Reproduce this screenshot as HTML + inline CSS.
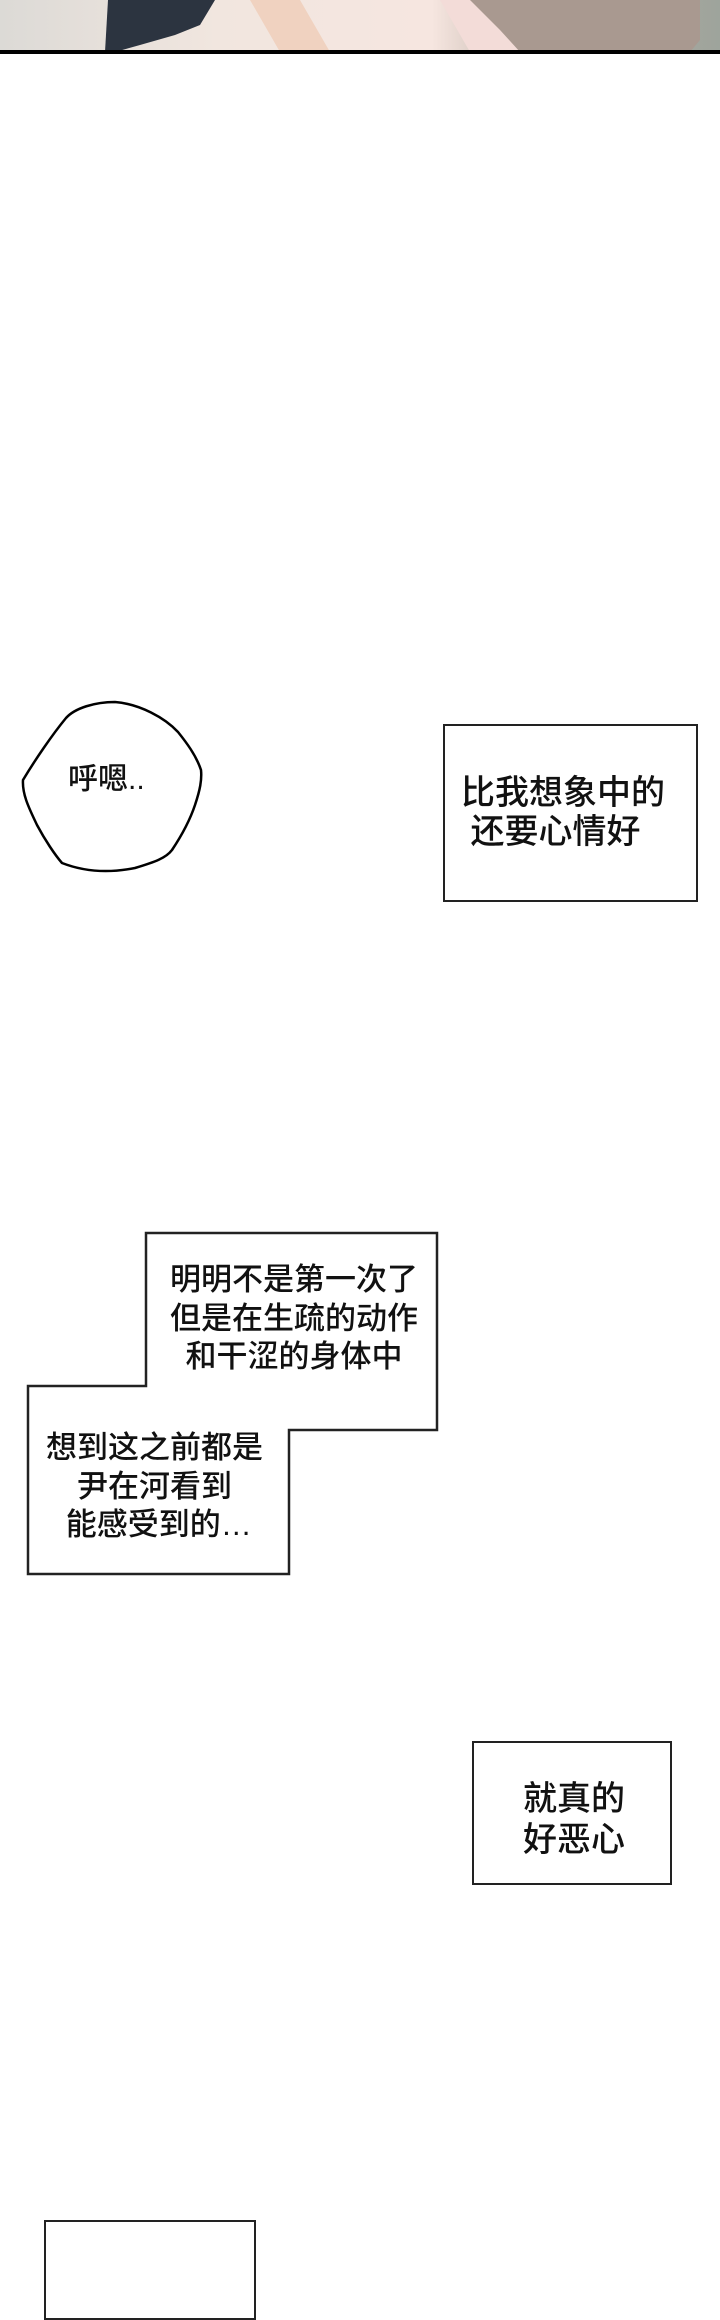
<!DOCTYPE html>
<html><head><meta charset="utf-8"><style>
body{margin:0;width:720px;height:2288px;background:#fff;position:relative;overflow:hidden;font-family:"Liberation Sans","Noto Sans CJK SC",sans-serif;color:#111}
.box{position:absolute;border:2.5px solid #222;background:#fff;box-sizing:border-box}
.t{position:absolute;white-space:nowrap;line-height:39px;font-weight:500}
</style></head><body>
<svg style="position:absolute;left:0;top:0" width="720" height="56">
<defs><linearGradient id="g" x1="0" x2="1"><stop offset="0" stop-color="#dcdad6"/><stop offset="0.3" stop-color="#f1e6df"/><stop offset="0.6" stop-color="#f6e6e0"/><stop offset="0.75" stop-color="#b9aca2"/><stop offset="1" stop-color="#9ea49c"/></linearGradient></defs>
<rect width="720" height="52" fill="url(#g)"/>
<polygon points="108,0 215,0 200,25 175,35 140,45 115,52 105,52" fill="#2c3440"/>
<polygon points="250,0 300,0 330,52 280,52" fill="#f0d2c0"/>
<polygon points="440,0 520,0 525,52 470,52" fill="#f3dcd8"/>
<polygon points="470,0 700,0 700,40 690,52 520,52 500,30" fill="#a99990"/>
<rect x="0" y="50" width="720" height="4" fill="#000"/>
</svg>
<svg style="position:absolute;left:0;top:690" width="220" height="200">
<path d="M115,12 C95,12 75,18 66,28 C52,45 35,70 23,90 C22,105 30,120 37,135 C45,150 55,165 62,173 C85,182 110,183 135,178 C155,172 166,168 172,160 C182,145 190,130 195,115 C200,100 202,90 201,80 C196,65 186,52 178,42 C165,28 140,14 115,12 Z" fill="#fff" stroke="#000" stroke-width="2.5"/>
</svg>
<div class="t" style="left:68px;top:760px;font-size:30px">呼嗯..</div>
<div class="box" style="left:443px;top:724px;width:255px;height:178px"></div>
<div class="t" style="left:461px;top:774px;font-size:34px;line-height:39px">比我想象中的<br>&nbsp;还要心情好</div>
<svg style="position:absolute;left:0;top:1220" width="460" height="370">
<polygon points="146,13 437,13 437,210 289,210 289,354 28,354 28,166 146,166" fill="#fff" stroke="#222" stroke-width="2.5"/>
</svg>
<div class="t" style="left:170px;top:1261px;font-size:31px;line-height:38.5px;text-align:center">明明不是第一次了<br>但是在生疏的动作<br>和干涩的身体中</div>
<div class="t" style="left:46px;top:1429px;font-size:31px;line-height:38.5px;text-align:center">想到这之前都是<br>尹在河看到<br>&nbsp;能感受到的…</div>
<div class="box" style="left:472px;top:1741px;width:200px;height:144px"></div>
<div class="t" style="left:523px;top:1779px;font-size:34px;line-height:41px">就真的<br>好恶心</div>
<div class="box" style="left:44px;top:2220px;width:212px;height:100px"></div>
</body></html>
